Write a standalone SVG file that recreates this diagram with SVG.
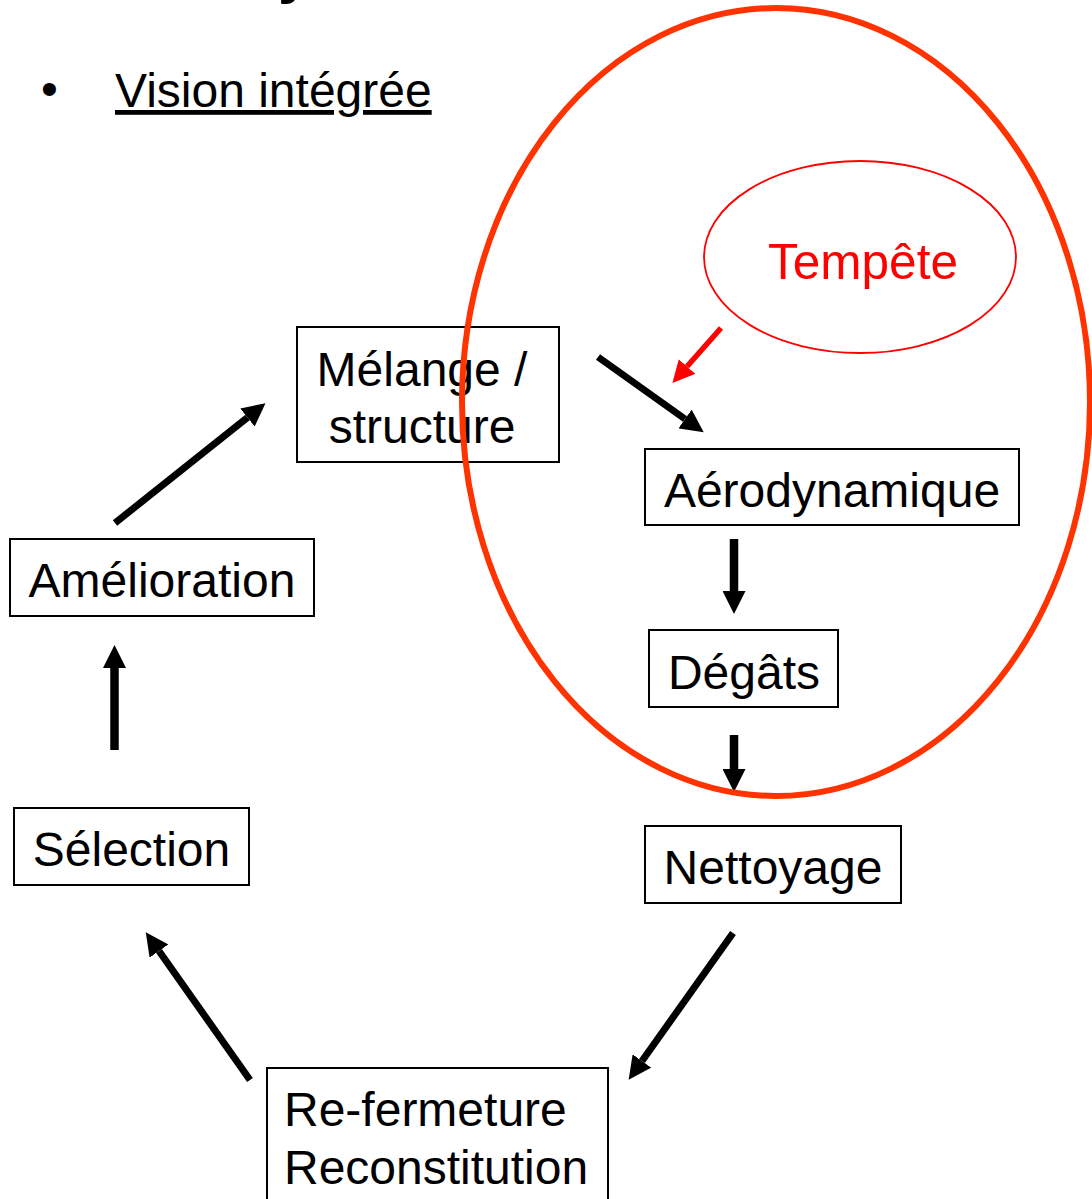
<svg xmlns="http://www.w3.org/2000/svg" width="1092" height="1199" viewBox="0 0 1092 1199">
<style>
.box{fill:#fff;stroke:#000;stroke-width:2}
.t{font-family:"Liberation Sans",Arial,sans-serif;font-size:48px;fill:#000}
.m{text-anchor:middle}
.arr{stroke:#000;stroke-width:7;fill:none}
.arrv{stroke:#000;stroke-width:8.5;fill:none}
.red{stroke:#ff0000;stroke-width:5.5;fill:none}
</style>
<defs>
<marker id="hb" viewBox="0 0 10 10" refX="0" refY="5" markerUnits="userSpaceOnUse" markerWidth="23" markerHeight="23" orient="auto">
<path d="M0,0 L10,5 L0,10 z" fill="#000"/>
</marker>
<marker id="hr" viewBox="0 0 10 10" refX="0" refY="5" markerUnits="userSpaceOnUse" markerWidth="22" markerHeight="23" orient="auto">
<path d="M0,0 L10,5 L0,10 z" fill="#ff0000"/>
</marker>
</defs>
<rect width="1092" height="1199" fill="#fff"/>
<text x="278" y="-8" style="font-family:'Liberation Sans',Arial,sans-serif;font-size:60px;font-weight:bold">y</text>
<g id="header">
<text class="t" x="41" y="105">•</text>
<text class="t" x="115" y="107" style="text-decoration:underline">Vision intégrée</text>
</g>
<g id="tempete">
<ellipse cx="860" cy="257" rx="156" ry="96" fill="none" stroke="#ff0000" stroke-width="1.8"/>
<text class="t m" x="863" y="279" style="fill:#ff0000;font-size:49.5px">Tempête</text>
</g>
<g id="melange">
<rect class="box" x="297" y="327" width="262" height="135"/>
<text class="t m" x="422" y="386">Mélange /</text>
<text class="t m" x="422" y="443">structure</text>
</g>
<g id="aerodynamique">
<rect class="box" x="645" y="449" width="374" height="76"/>
<text class="t m" x="832" y="507">Aérodynamique</text>
</g>
<g id="degats">
<rect class="box" x="649" y="630" width="189" height="77"/>
<text class="t m" x="744" y="689">Dégâts</text>
</g>
<g id="nettoyage">
<rect class="box" x="645" y="826" width="256" height="77"/>
<text class="t m" x="773" y="884">Nettoyage</text>
</g>
<g id="refermeture">
<rect class="box" x="267" y="1068" width="341" height="140"/>
<text class="t" x="284" y="1126">Re-fermeture</text>
<text class="t" x="284" y="1184">Reconstitution</text>
</g>
<g id="selection">
<rect class="box" x="14" y="808" width="235" height="77"/>
<text class="t m" x="131.5" y="866">Sélection</text>
</g>
<g id="amelioration">
<rect class="box" x="10" y="539" width="304" height="77"/>
<text class="t m" x="162" y="597">Amélioration</text>
</g>
<g id="connectors">
<line class="arr" x1="598" y1="357" x2="685" y2="419" marker-end="url(#hb)"/>
<line class="red" x1="721" y1="328" x2="687" y2="366.5" marker-end="url(#hr)"/>
<line class="arrv" x1="734" y1="539" x2="734" y2="591" marker-end="url(#hb)"/>
<line class="arrv" x1="734" y1="735" x2="734" y2="769" marker-end="url(#hb)"/>
<line class="arr" x1="733" y1="933" x2="642" y2="1061" marker-end="url(#hb)"/>
<line class="arr" x1="250" y1="1080" x2="159" y2="951" marker-end="url(#hb)"/>
<line class="arrv" x1="114.5" y1="750" x2="114.5" y2="668" marker-end="url(#hb)"/>
<line class="arr" x1="115" y1="523" x2="247.5" y2="417.5" marker-end="url(#hb)"/>
</g>
<g id="zone">
<ellipse cx="776" cy="402" rx="314" ry="394" fill="none" stroke="#ff3300" stroke-width="6"/>
</g>
</svg>
